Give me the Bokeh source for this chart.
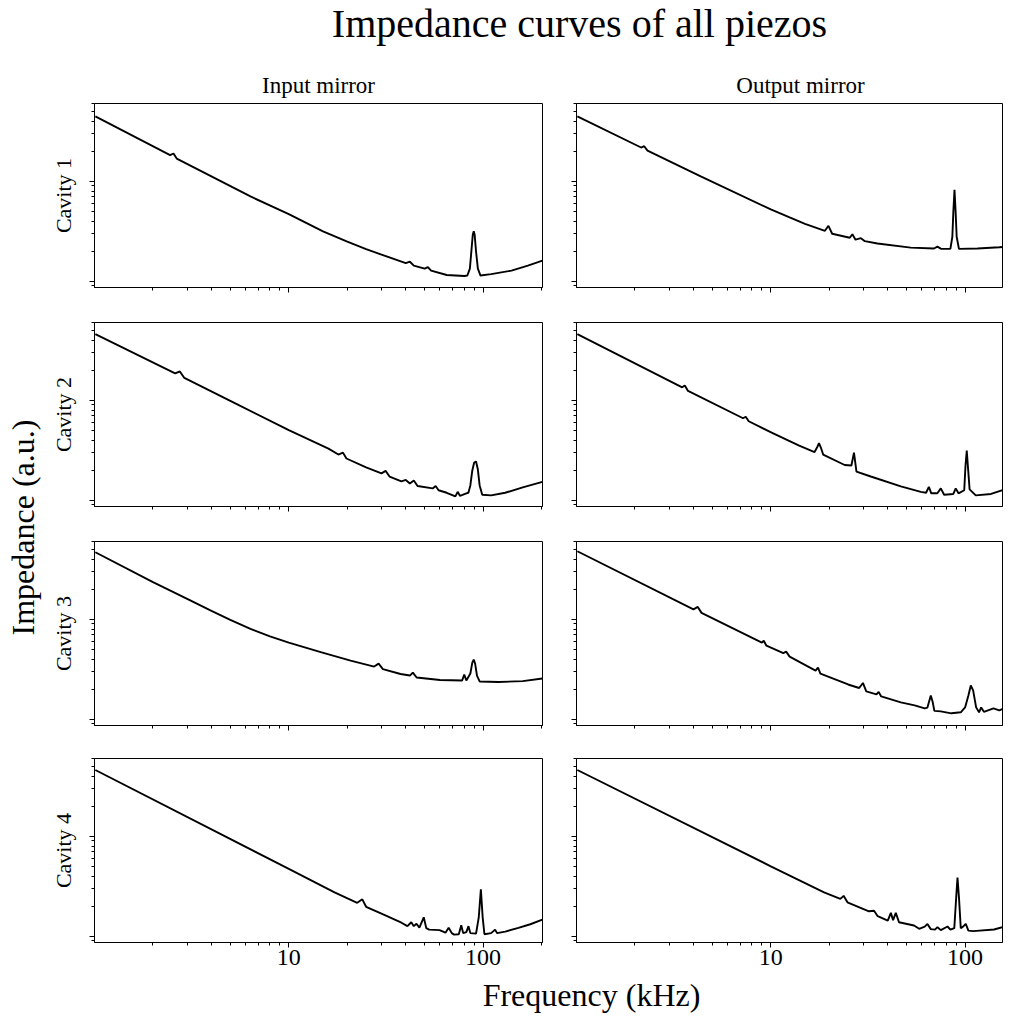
from math import pi
from bokeh.plotting import figure
from bokeh.layouts import column, row
from bokeh.models import Range1d, FixedTicker, Label, CustomJSTickFormatter, PrintfTickFormatter
from bokeh.embed import file_html
from bokeh.resources import INLINE

FONT = "Liberation Serif"

# ---------------- data (frequency in kHz, impedance in a.u.) ----------------
title_text = "Impedance curves of all piezos"
column_titles = ["Input mirror", "Output mirror"]
row_titles = ["Cavity 1", "Cavity 2", "Cavity 3", "Cavity 4"]
x_label = "Frequency (kHz)"
y_label = "Impedance (a.u.)"
x_major_ticks = [10, 100]
x_minor_ticks = [2, 3, 4, 5, 6, 7, 8, 9, 20, 30, 40, 50, 60, 70, 80, 90, 200]
y_major_ticks = [0.1, 1]
y_minor_ticks = [0.09, 0.2, 0.3, 0.4, 0.5, 0.6, 0.7, 0.8, 0.9, 2, 3, 4, 5, 6]

c1_in_f = [1.01, 2.45, 2.55, 2.65, 6.35, 10, 15, 20, 25, 30, 40, 42, 44, 50, 52, 54, 65, 80, 83,
           85.5, 87, 88.5, 89.5, 90.5, 92, 94, 97, 110, 140, 170, 202]
c1_in_z = [4.47, 1.83, 1.90, 1.69, 0.706, 0.47, 0.3165, 0.249, 0.2096, 0.185, 0.152, 0.157, 0.1436,
           0.134, 0.1388, 0.128, 0.1156, 0.113, 0.1142, 0.134, 0.198, 0.292, 0.3165, 0.292, 0.198,
           0.134, 0.1142, 0.118, 0.128, 0.1436, 0.161]

c1_out_f = [1.01, 2.15, 2.23, 2.32, 4.36, 10, 12.5, 15, 19, 19.8, 20.7, 25.5, 26.3, 27.3, 29.1,
            30.5, 35.4, 52.5, 69.2, 72, 75, 84, 86, 87, 88.2, 89.4, 90.5, 93, 115.8, 150, 191, 202]
c1_out_z = [4.47, 2.18, 2.245, 2.03, 1.12, 0.524, 0.436, 0.376, 0.320, 0.359, 0.299, 0.273, 0.296,
            0.261, 0.270, 0.252, 0.239, 0.217, 0.213, 0.222, 0.212, 0.211, 0.279, 0.494, 0.825,
            0.494, 0.279, 0.211, 0.213, 0.219, 0.227, 0.230]

c2_in_f = [1.01, 2.6, 2.75, 2.9, 5, 10, 16, 18, 19, 19.8, 25, 30, 31.5, 33, 38, 40, 42, 44, 46,
           55, 57, 59, 65, 72, 74, 76, 82, 84, 86, 88, 90, 92, 94, 96, 99, 110, 130, 160, 202]
c2_in_z = [4.59, 1.865, 1.944, 1.675, 0.989, 0.503, 0.329, 0.287, 0.300, 0.262, 0.213, 0.186,
           0.197, 0.173, 0.155, 0.160, 0.1476, 0.158, 0.139, 0.1316, 0.139, 0.126, 0.119, 0.1096,
           0.1216, 0.111, 0.1175, 0.119, 0.141, 0.199, 0.239, 0.244, 0.203, 0.141, 0.1135, 0.112,
           0.119, 0.1346, 0.153]

c2_out_f = [1.01, 3.5, 3.61, 3.75, 7.2, 7.43, 7.7, 10.1, 14, 16.8, 17.3, 17.7, 18.1, 18.6, 24, 26,
            26.8, 27.6, 32.7, 46.7, 59.2, 63, 65.1, 67, 72, 75, 78, 87, 89.5, 92.5, 99, 100.5,
            102, 103.5, 105.5, 113.5, 136, 160, 189, 202]
c2_out_z = [4.59, 1.35, 1.41, 1.243, 0.662, 0.685, 0.618, 0.475, 0.352, 0.304, 0.337, 0.373,
            0.337, 0.287, 0.2255, 0.223, 0.300, 0.194, 0.173, 0.138, 0.1215, 0.119, 0.136,
            0.1175, 0.1175, 0.1316, 0.1135, 0.1158, 0.1316, 0.1175, 0.126, 0.223, 0.315, 0.213,
            0.1286, 0.112, 0.1158, 0.1286, 0.141, 0.1476]

c3_in_f = [1.01, 2.0, 3.0, 4.0, 5.0, 6.35, 8.0, 10, 14.6, 20.8, 27.5, 29, 30.5, 37.6, 42, 43.5,
           45.5, 60, 78, 80, 82, 86, 88, 89.5, 91, 93, 96, 120, 160, 202]
c3_in_z = [4.69, 2.36, 1.60, 1.215, 0.989, 0.804, 0.677, 0.584, 0.470, 0.3865, 0.337, 0.3607,
           0.318, 0.284, 0.274, 0.2935, 0.262, 0.247, 0.2445, 0.280, 0.2445, 0.287, 0.369, 0.395,
           0.361, 0.274, 0.239, 0.236, 0.241, 0.256]

c3_out_f = [1.01, 4.0, 4.21, 4.4, 9.0, 9.2, 9.5, 11.6, 12.0, 12.5, 17.0, 17.5, 18.0, 25, 28.5,
            29.8, 31, 35, 35.9, 37, 46.7, 55, 62, 64, 66.6, 68, 69.5, 75, 85, 95, 100, 104, 107,
            110, 114, 118, 121, 125, 140, 150, 170, 202]
c3_out_z = [4.80, 1.257, 1.331, 1.161, 0.584, 0.611, 0.545, 0.459, 0.475, 0.424, 0.307, 0.329,
            0.287, 0.223, 0.2056, 0.231, 0.190, 0.1774, 0.188, 0.1694, 0.1476, 0.138, 0.1286,
            0.131, 0.173, 0.151, 0.1215, 0.120, 0.1148, 0.1175, 0.1316, 0.173, 0.218, 0.1944,
            0.1316, 0.1175, 0.1316, 0.1188, 0.1286, 0.123, 0.136, 0.1545]

c4_in_f = [1.01, 10, 17.2, 22.5, 23.9, 25, 30.4, 38, 40.8, 42.7, 44, 45.4, 47, 49.5, 51, 52.8,
           59.7, 64, 66.5, 69, 70.9, 75, 77.2, 79, 82, 84.1, 86, 92, 95, 97.4, 99.5, 101.6, 110,
           115.3, 118, 130, 152, 175, 202]
c4_in_z = [4.61, 0.472, 0.275, 0.2165, 0.2345, 0.1975, 0.1663, 0.1368, 0.1263, 0.1383, 0.1263,
           0.1337, 0.122, 0.155, 0.1207, 0.1166, 0.1153, 0.1088, 0.122, 0.1076, 0.104, 0.105,
           0.129, 0.1076, 0.110, 0.1263, 0.1076, 0.1063, 0.155, 0.295, 0.155, 0.105, 0.1076,
           0.1166, 0.1076, 0.1114, 0.1215, 0.132, 0.1466]

c4_out_f = [1.01, 10, 18.8, 22.8, 23.7, 24.8, 32, 34.0, 35.5, 40.0, 41.5, 42.6, 44.0, 45.7, 54.6,
            58.0, 62, 64.0, 66.6, 70, 72.1, 75.0, 81.2, 84, 88, 90, 91.4, 93, 95, 97.0, 100.8,
            104, 110, 141, 170, 191, 202]
c4_out_z = [4.61, 0.5015, 0.275, 0.2371, 0.254, 0.2188, 0.178, 0.180, 0.159, 0.1433, 0.1715,
            0.145, 0.1715, 0.1384, 0.1283, 0.1188, 0.125, 0.133, 0.118, 0.1166, 0.1234, 0.1153,
            0.1253, 0.1166, 0.1207, 0.2455, 0.388, 0.2455, 0.1207, 0.1234, 0.133, 0.114, 0.1127,
            0.117, 0.129, 0.147, 0.155]

series = [
    [(c1_in_f, c1_in_z), (c1_out_f, c1_out_z)],
    [(c2_in_f, c2_in_z), (c2_out_f, c2_out_z)],
    [(c3_in_f, c3_in_z), (c3_out_f, c3_out_z)],
    [(c4_in_f, c4_in_z), (c4_out_f, c4_out_z)],
]

# ---------------- layout (pixels) ----------------
Y_MIN, Y_MAX = 0.0867, 6.01
X_MIN = 1.0
X_MAX = [202.2, 155.8]          # right column is cut at the window edge
FRAME_H = 184
BORDER_T = 5
ROW_H = [219, 219, 217, 223]
COL_W = [468, 457]
BORDER_L = [16, 30]
BORDER_R = [4, 1]
TOP_H = 98
LEFT_W = 78
TOTAL_W = 1003
TOTAL_H = 1013
GRID_H = sum(ROW_H)
BOT_H = TOTAL_H - TOP_H - GRID_H


def text_fig(w, h):
    p = figure(width=w, height=h, x_range=Range1d(0, w), y_range=Range1d(0, h),
               output_backend="svg", toolbar_location=None, min_border=0,
               x_axis_location=None, y_axis_location=None)
    p.grid.visible = False
    p.outline_line_color = None
    return p


def panel(r, c):
    fx, fz = series[r][c]
    bottom = r == 3
    p = figure(width=COL_W[c], height=ROW_H[r], x_axis_type="log", y_axis_type="log",
               x_range=Range1d(X_MIN, X_MAX[c]), y_range=Range1d(Y_MIN, Y_MAX),
               output_backend="svg", toolbar_location=None,
               min_border_left=BORDER_L[c], min_border_right=BORDER_R[c],
               min_border_top=BORDER_T, min_border_bottom=ROW_H[r] - BORDER_T - FRAME_H)
    p.line(fx, fz, line_color="black", line_width=1.9)
    p.grid.visible = False
    p.outline_line_color = "black"
    p.outline_line_width = 1
    for ax in (p.xaxis[0], p.yaxis[0]):
        ax.axis_line_color = "black"
        ax.major_tick_line_color = "black"
        ax.minor_tick_line_color = "black"
        ax.major_tick_in = 0
        ax.minor_tick_in = 0
        ax.major_tick_out = 5
        ax.minor_tick_out = 3
    p.xaxis.ticker = FixedTicker(ticks=x_major_ticks, minor_ticks=x_minor_ticks)
    p.yaxis.ticker = FixedTicker(ticks=y_major_ticks, minor_ticks=y_minor_ticks)
    p.yaxis.formatter = CustomJSTickFormatter(code="return ''")
    p.yaxis.major_label_text_font_size = "0px"
    p.yaxis.major_label_standoff = 0
    if bottom:
        p.xaxis.formatter = PrintfTickFormatter(format="%d")
        p.xaxis.major_label_text_font = FONT
        p.xaxis.major_label_text_font_size = "24px"
        p.xaxis.major_label_text_color = "black"
        p.xaxis.major_label_standoff = 2
    else:
        p.xaxis.formatter = CustomJSTickFormatter(code="return ''")
        p.xaxis.major_label_text_font_size = "0px"
        p.xaxis.major_label_standoff = 0
    return p


cols = [column([panel(r, c) for r in range(4)], spacing=0) for c in range(2)]

# top: title + column titles
top = text_fig(TOTAL_W, TOP_H)
top.add_layout(Label(x=579, y=TOP_H - 23, text=title_text, text_font=FONT,
                     text_font_size="40px", text_align="center", text_baseline="middle",
                     text_color="black"))
for cx, t in zip([318, 800], column_titles):
    top.add_layout(Label(x=cx, y=TOP_H - 85, text=t, text_font=FONT, text_font_size="23px",
                         text_align="center", text_baseline="middle", text_color="black"))

# left: global y label + row labels
left = text_fig(LEFT_W, GRID_H)
left.add_layout(Label(x=22, y=GRID_H - (527 - TOP_H), text=y_label, text_font=FONT,
                      text_font_size="32px", text_align="center", text_baseline="middle",
                      angle=pi / 2, text_color="black"))
acc = 0
for h, t in zip(ROW_H, row_titles):
    cy = acc + BORDER_T + FRAME_H / 2
    left.add_layout(Label(x=63, y=GRID_H - cy, text=t, text_font=FONT,
                          text_font_size="22px", text_align="center", text_baseline="middle",
                          angle=pi / 2, text_color="black"))
    acc += h

# bottom: global x label
bot = text_fig(TOTAL_W, BOT_H)
bot.add_layout(Label(x=591, y=BOT_H - 18, text=x_label, text_font=FONT, text_font_size="32px",
                     text_align="center", text_baseline="middle", text_color="black"))

layout = column(top, row(left, cols[0], cols[1], spacing=0), bot, spacing=0)

open("out.html", "w").write(file_html(layout, INLINE, title=title_text))
